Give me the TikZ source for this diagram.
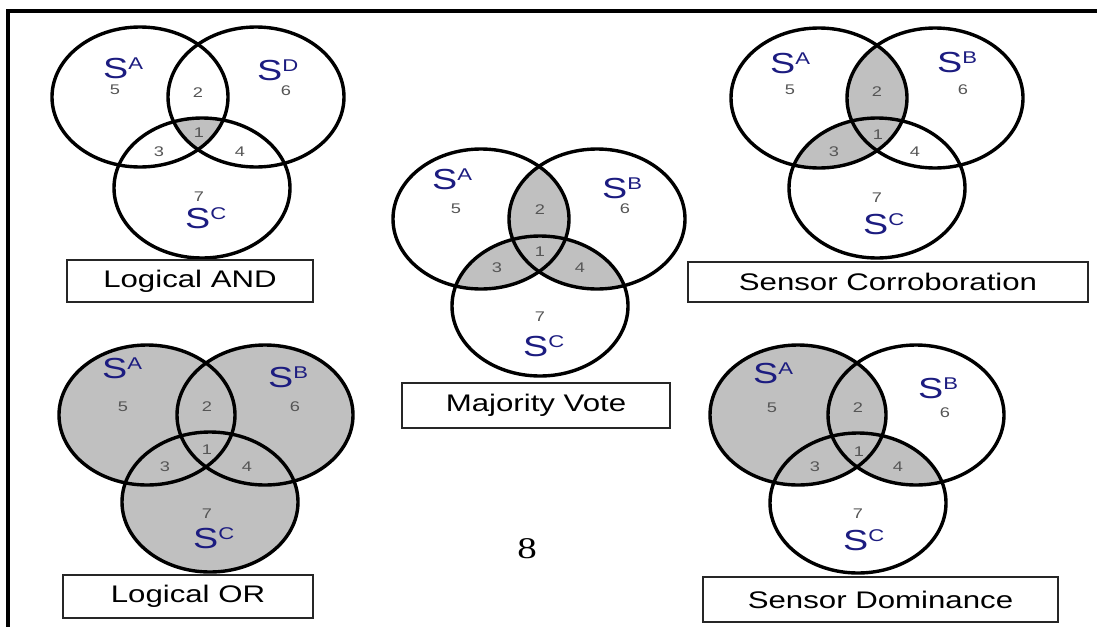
\documentclass[tikz,border=0pt]{standalone}
\usepackage{fontspec}
\usepackage{graphicx}
\setmainfont{Liberation Sans}
\newfontfamily\serifnum{Liberation Serif}
\definecolor{vgray}{RGB}{192,192,192}
\definecolor{setblue}{RGB}{28,28,128}
\definecolor{numgray}{RGB}{85,85,85}
\newcommand\stretchx[1]{\scalebox{1.3}[1]{#1}}
\newcommand\setname[1]{\stretchx{\fontsize{29}{29}\selectfont S\raisebox{9pt}{\fontsize{17}{17}\selectfont #1}}}
\tikzset{
  venn/.style={line width=3.4pt, draw=black},
  shadefill/.style={fill=vgray},
  caption/.style={draw=black!85, line width=1.6pt, inner sep=0pt, font=\fontsize{24}{24}\selectfont},
  num/.style={text=numgray, inner sep=0pt},
  setlbl/.style={text=setblue, anchor=base west, inner sep=0pt},
  frame/.style={line width=3.5pt, draw=black},
}
\newcommand\dig[1]{\stretchx{\fontsize{14}{14}\selectfont #1}}
\begin{document}
\begin{tikzpicture}[x=1pt,y=-1pt]
\useasboundingbox (0,0) rectangle (1097,627);
\def\rx{88pt}\def\ry{70pt}
% frame
\coordinate (ftr) at (1097,11);
\coordinate (ftl) at (8,11);
\coordinate (fbl) at (8,627);
\draw[frame] (ftr) -- (ftl) -- (fbl);

% ---------- centres ----------
\coordinate (tla) at (140,97);  \coordinate (tlb) at (256,97);  \coordinate (tlc) at (202,188);
\coordinate (mda) at (481,219); \coordinate (mdb) at (597,219); \coordinate (mdc) at (540,306);
\coordinate (tra) at (819,98);  \coordinate (trb) at (935,98);  \coordinate (trc) at (877,188);
\coordinate (bla) at (147,415); \coordinate (blb) at (265,415); \coordinate (blc) at (210,502);
\coordinate (bra) at (798,415); \coordinate (brb) at (916,415); \coordinate (brc) at (858,503);

% ---------- fills ----------
% Logical AND: A&B&C
\begin{scope}
  \clip (tla) ellipse [x radius=\rx, y radius=\ry];
  \clip (tlb) ellipse [x radius=\rx, y radius=\ry];
  \fill[shadefill] (tlc) ellipse [x radius=\rx, y radius=\ry];
\end{scope}
% Majority vote
\begin{scope}
  \clip (mda) ellipse [x radius=\rx, y radius=\ry];
  \fill[shadefill] (mdb) ellipse [x radius=\rx, y radius=\ry];
  \fill[shadefill] (mdc) ellipse [x radius=\rx, y radius=\ry];
\end{scope}
\begin{scope}
  \clip (mdb) ellipse [x radius=\rx, y radius=\ry];
  \fill[shadefill] (mdc) ellipse [x radius=\rx, y radius=\ry];
\end{scope}
% Sensor corroboration: A&B, A&C
\begin{scope}
  \clip (tra) ellipse [x radius=\rx, y radius=\ry];
  \fill[shadefill] (trb) ellipse [x radius=\rx, y radius=\ry];
  \fill[shadefill] (trc) ellipse [x radius=\rx, y radius=\ry];
\end{scope}
% Logical OR
\fill[shadefill] (bla) ellipse [x radius=\rx, y radius=\ry];
\fill[shadefill] (blb) ellipse [x radius=\rx, y radius=\ry];
\fill[shadefill] (blc) ellipse [x radius=\rx, y radius=\ry];
% Sensor dominance: A, B&C
\fill[shadefill] (bra) ellipse [x radius=\rx, y radius=\ry];
\begin{scope}
  \clip (brb) ellipse [x radius=\rx, y radius=\ry];
  \fill[shadefill] (brc) ellipse [x radius=\rx, y radius=\ry];
\end{scope}

% ---------- outlines ----------
\foreach \c in {tla,tlb,tlc,mda,mdb,mdc,tra,trb,trc,bla,blb,blc,bra,brb,brc}
  \draw[venn] (\c) ellipse [x radius=\rx, y radius=\ry];

% ---------- set labels ----------
\node[setlbl] (tlsa) at (103,78) {\setname{A}};
\node[setlbl] (tlsb) at (257,80) {\setname{D}};
\node[setlbl] (tlsc) at (185,228) {\setname{C}};
\node[setlbl] (mdsa) at (432,189) {\setname{A}};
\node[setlbl] (mdsb) at (602,198) {\setname{B}};
\node[setlbl] (mdsc) at (523,356) {\setname{C}};
\node[setlbl] (trsa) at (770,73) {\setname{A}};
\node[setlbl] (trsb) at (937,72) {\setname{B}};
\node[setlbl] (trsc) at (863,234) {\setname{C}};
\node[setlbl] (blsa) at (102,378) {\setname{A}};
\node[setlbl] (blsb) at (268,387) {\setname{B}};
\node[setlbl] (blsc) at (193,548) {\setname{C}};
\node[setlbl] (brsa) at (753,383) {\setname{A}};
\node[setlbl] (brsb) at (918,398) {\setname{B}};
\node[setlbl] (brsc) at (843,550) {\setname{C}};

% ---------- region numbers ----------
\foreach \p/\n/\x/\y in {
  tl/5/115/90, tl/2/198/93, tl/6/286/91, tl/1/199/133, tl/3/159/152, tl/4/240/152, tl/7/199/197,
  md/5/456/209, md/2/540/210, md/6/625/209, md/1/540/252, md/3/497/268, md/4/580/268, md/7/540/317,
  tr/5/790/90, tr/2/877/92, tr/6/963/90, tr/1/878/135, tr/3/834/152, tr/4/915/152, tr/7/877/198,
  bl/5/123/407, bl/2/207/407, bl/6/295/407, bl/1/207/450, bl/3/165/467, bl/4/247/467, bl/7/207/514,
  br/5/772/408, br/2/858/408, br/6/945/413, br/1/859/452, br/3/815/467, br/4/898/467, br/7/858/514}
  \node[num] (\p n\n) at (\x,\y) {\dig{\n}};

% ---------- captions ----------
\node[caption, minimum width=246pt, minimum height=42pt] (captl) at (190,281) {\stretchx{Logical AND}};
\node[caption, minimum width=268pt, minimum height=45pt] (capmd) at (536,405.5) {\stretchx{Majority Vote}};
\node[caption, minimum width=400pt, minimum height=40pt] (captr) at (888,282) {\stretchx{Sensor Corroboration}};
\node[caption, minimum width=250pt, minimum height=43pt] (capbl) at (188,596.5) {\stretchx{Logical OR}};
\node[caption, minimum width=355pt, minimum height=45pt] (capbr) at (880.5,599.5) {\stretchx{Sensor Dominance}};

% page number
\node[inner sep=0pt] (pagenum) at (527,549) {\stretchx{\serifnum\fontsize{30}{30}\selectfont 8}};
\end{tikzpicture}
\end{document}
